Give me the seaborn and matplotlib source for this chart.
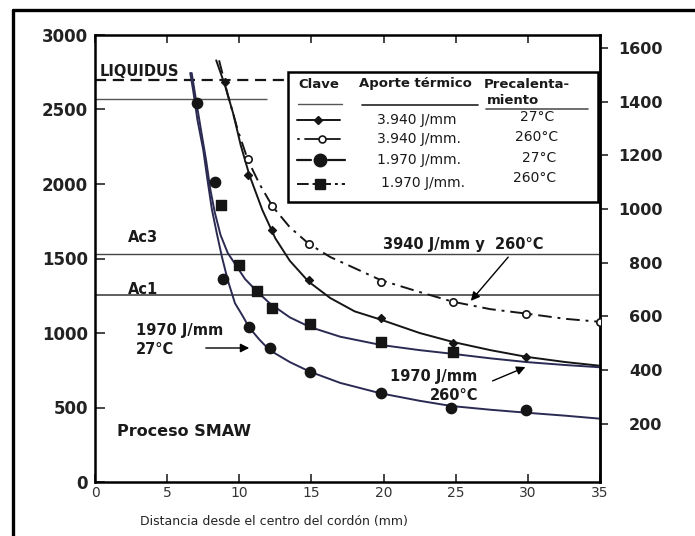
import numpy as np
import pandas as pd
import matplotlib
matplotlib.use("Agg")
import matplotlib.pyplot as plt
import seaborn as sns
from matplotlib.lines import Line2D
from matplotlib.patches import Rectangle

# ---------------- data ----------------
# x: distance from weld centre (mm), y: temperature (deg F, left axis)
s1_cx = [8.4, 9.0, 9.6, 10.1, 10.7, 11.6, 12.5, 13.5, 14.8, 16.3, 18.0, 19.8, 22.5, 24.8, 27.4, 29.9, 32.6, 35.0]
s1_cy = [2830, 2665, 2465, 2260, 2060, 1825, 1635, 1485, 1345, 1235, 1145, 1090, 1000, 940, 885, 840, 805, 780]
s1_mx = [9.0, 10.6, 12.3, 14.8, 19.8, 24.8, 29.9]
s1_my = [2685, 2060, 1690, 1355, 1100, 935, 840]

s2_cx = [8.6, 9.2, 9.9, 10.6, 11.4, 12.3, 13.5, 14.8, 16.3, 18.0, 19.8, 22.5, 24.8, 27.4, 29.9, 32.6, 35.0]
s2_cy = [2830, 2600, 2360, 2160, 2000, 1850, 1710, 1600, 1510, 1435, 1355, 1275, 1210, 1160, 1130, 1095, 1075]
s2_mx = [10.6, 12.3, 14.8, 19.8, 24.8, 29.9, 35.0]
s2_my = [2165, 1850, 1600, 1345, 1210, 1130, 1075]

s3_cx = [6.6, 6.8, 7.1, 7.5, 7.8, 8.1, 8.45, 8.8, 9.2, 9.7, 10.2, 10.7, 11.4, 12.1, 13.5, 14.9, 17.0, 19.8, 22.5, 24.7, 27.4, 29.9, 32.6, 35.0]
s3_cy = [2745, 2630, 2430, 2230, 2025, 1830, 1665, 1510, 1355, 1200, 1120, 1035, 955, 885, 805, 740, 665, 595, 545, 510, 485, 465, 445, 425]
s3_mx = [7.1, 8.3, 8.9, 10.7, 12.1, 14.9, 19.8, 24.7, 29.9]
s3_my = [2545, 2015, 1360, 1040, 900, 740, 595, 495, 485]

s4_cx = [6.7, 7.0, 7.35, 7.7, 8.0, 8.3, 8.7, 9.2, 9.8, 10.4, 11.2, 12.1, 13.5, 14.9, 17.0, 19.8, 22.5, 24.8, 27.4, 29.9, 32.6, 35.0]
s4_cy = [2745, 2565, 2360, 2160, 1960, 1810, 1658, 1537, 1450, 1362, 1282, 1200, 1105, 1040, 975, 920, 885, 860, 830, 805, 785, 770]
s4_mx = [8.7, 10.0, 11.2, 12.3, 14.9, 19.8, 24.8]
s4_my = [1860, 1455, 1280, 1170, 1060, 940, 870]

liquidus = 2700
solidus = 2570
ac3 = 1530
ac1 = 1255

x_ticks = [0, 5, 10, 15, 20, 25, 30, 35]
y_ticks = [0, 500, 1000, 1500, 2000, 2500, 3000]
y_labels = ["0", "500", "1000", "1500", "2000", "2500", "3000"]
c_ticks = [200, 400, 600, 800, 1000, 1200, 1400, 1600]
c_labels = ["200", "400", "600", "800", "1000", "1200", "1400", "1600"]

legend_aporte = ["3.940 J/mm", "3.940 J/mm.", "1.970 J/mm.", "1.970 J/mm."]
legend_prec = ["27°C", "260°C", "27°C", "260°C"]

# ---------------- figure ----------------
sns.set_theme(style="white")
plt.rcParams['font.family'] = ['DejaVu Sans']
plt.rcParams['text.color'] = '#1a1a1a'

W, H = 695, 536
fig = plt.figure(figsize=(W / 100, H / 100), dpi=100)
fig.patch.set_facecolor('white')
X0, X1, Y0, Y1 = 95, 600, 35, 482
ax = fig.add_axes([X0 / W, 1 - Y1 / H, (X1 - X0) / W, (Y1 - Y0) / H])
ax.set_facecolor('white')


def P(px, py):
    return (px - X0) / (X1 - X0) * 35, (Y1 - py) / (Y1 - Y0) * 3000


def F(px, py):
    return px / W, 1 - py / H


dark = '#151515'
navy = '#2a2a52'

# reference lines
ax.axhline(liquidus, color=dark, lw=1.6, ls=(0, (5, 3)), zorder=1)
ax.hlines(solidus, 0, 11.9, color='#555555', lw=1.0, zorder=1)
ax.axhline(ac3, color='#444444', lw=1.0, zorder=1)
ax.axhline(ac1, color='#333333', lw=1.1, zorder=1)

# curves
curves = [
    (s1_cx, s1_cy, dark, '-'),
    (s2_cx, s2_cy, dark, (0, (7, 3, 1.5, 3))),
    (s3_cx, s3_cy, navy, '-'),
    (s4_cx, s4_cy, navy, '-'),
]
for cx, cy, col, ls in curves:
    df = pd.DataFrame({'x': cx, 'y': cy})
    sns.lineplot(data=df, x='x', y='y', ax=ax, color=col, lw=1.4,
                 sort=False, estimator=None, legend=False, linestyle=ls, zorder=2)

# markers
marks = [
    (s1_mx, s1_my, 'D', 16, dark, dark, 1.0),
    (s2_mx, s2_my, 'o', 28, 'white', dark, 1.2),
    (s3_mx, s3_my, 'o', 55, dark, dark, 1.0),
    (s4_mx, s4_my, 's', 42, dark, dark, 1.0),
]
for mx, my, m, s, fc, ec, lw in marks:
    dfm = pd.DataFrame({'x': mx, 'y': my})
    sns.scatterplot(data=dfm, x='x', y='y', ax=ax, marker=m, s=s, color=fc,
                    edgecolor=ec, linewidth=lw, legend=False, zorder=3)

ax.set_xlim(0, 35)
ax.set_ylim(0, 3000)
ax.set_xlabel('')
ax.set_ylabel('')
for sp in ax.spines.values():
    sp.set_visible(True)
    sp.set_color('black')
    sp.set_linewidth(1.8)

ax.set_xticks(x_ticks, [str(v) for v in x_ticks], fontsize=10, color='#333333')
ax.set_yticks(y_ticks, y_labels, fontsize=12, fontweight='bold', color='#222222')
ax.tick_params(axis='x', direction='in', top=True, bottom=True, length=6, width=1.2, pad=3)
ax.tick_params(axis='y', direction='in', left=True, right=False, length=7, width=1.2, pad=5)


def f2c(f):
    return (np.asarray(f) - 32) * 5 / 9


def c2f(c):
    return np.asarray(c) * 9 / 5 + 32


sec = ax.secondary_yaxis('right', functions=(f2c, c2f))
sec.set_yticks(c_ticks, c_labels, fontsize=11.5, fontweight='bold', ha='right', color='#222222')
sec.tick_params(direction='out', length=6, width=1.2, pad=39)
sec.spines['right'].set_linewidth(1.8)

# ---------------- annotations ----------------
bold = dict(fontweight='bold', fontsize=10.5, va='center', ha='left', color='#1a1a1a')
fig.text(*F(100, 72), 'LIQUIDUS', **bold)
fig.text(*F(128, 238), 'Ac3', **bold)
fig.text(*F(128, 289), 'Ac1', **bold)
fig.text(*F(136, 330), '1970 J/mm', **bold)
fig.text(*F(136, 349), '27°C', **bold)
fig.text(*F(117, 432), 'Proceso SMAW', fontweight='bold', fontsize=11.5, va='center', ha='left')
fig.text(*F(383, 245), '3940 J/mm y  260°C', **bold)
fig.text(*F(390, 377), '1970 J/mm', **bold)
fig.text(*F(430, 396), '260°C', **bold)

arrow = dict(arrowstyle='-|>', color='black', lw=1.0, mutation_scale=13)
ax.annotate('', xy=P(252, 348), xytext=P(203, 348), arrowprops=arrow, zorder=4)
ax.annotate('', xy=P(469, 303), xytext=P(510, 255), arrowprops=arrow, zorder=4)
ax.annotate('', xy=P(528, 366), xytext=P(490, 382), arrowprops=arrow, zorder=4)

fig.text(*F(140, 521), 'Distancia desde el centro del cordón (mm)', fontsize=9,
         va='center', ha='left', color='#222222')

# ---------------- key box (legend table) ----------------
fig.add_artist(Rectangle(F(288, 202), (598 - 288) / W, (202 - 72) / H,
                         transform=fig.transFigure, facecolor='white',
                         edgecolor='black', lw=1.8, zorder=5))
hdr = dict(fontweight='bold', fontsize=9.5, va='center', ha='left', zorder=6)
fig.text(*F(298, 84), 'Clave', **hdr)
fig.text(*F(359, 84), 'Aporte térmico', **hdr)
fig.text(*F(484, 84), 'Precalenta-', **hdr)
fig.text(*F(487, 101), 'miento', **hdr)


def fline(xs, ys, **kw):
    fx = [x / W for x in xs]
    fy = [1 - y / H for y in ys]
    fig.add_artist(Line2D(fx, fy, transform=fig.transFigure, zorder=6, **kw))


fline([298, 342], [104, 104], color='#555555', lw=1.0)
fline([362, 478], [105, 105], color='#222222', lw=1.2)
fline([486, 588], [109, 109], color='#555555', lw=1.2)

rows_y = [120, 139, 160, 183]
# row samples
fline([297, 340], [120, 120], color=dark, lw=1.4)
fline([318], [120], color=dark, marker='D', markersize=4.5, ls='none')
fline([298, 299], [139, 139], color=dark, lw=1.4)
fline([305, 340], [139, 139], color=dark, lw=1.3)
fline([322], [139], marker='o', markersize=5, mfc='white', mec=dark, mew=1.2, ls='none')
fline([297, 311], [160, 160], color=dark, lw=1.6)
fline([328, 345], [160, 160], color=dark, lw=1.6)
fline([320], [160], marker='o', markersize=9, mfc=dark, mec=dark, ls='none')
fline([297, 345], [184, 184], color=dark, lw=1.4, ls=(0, (6, 2, 1.5, 2)))
fline([320], [184], marker='s', markersize=7, mfc=dark, mec=dark, ls='none')

txt = dict(fontsize=10, va='center', ha='left', zorder=6, color='#1a1a1a')
aporte_x = [377, 377, 377, 381]
prec_x = [520, 515, 522, 513]
prec_y = [117, 137, 158, 178]
for i in range(4):
    fig.text(*F(aporte_x[i], rows_y[i]), legend_aporte[i], **txt)
    fig.text(*F(prec_x[i], prec_y[i]), legend_prec[i], **txt)

# outer frame of the scanned figure
fline([13, 13], [10, 536], color='black', lw=2.4)
fline([13, 695], [10, 10], color='black', lw=2.4)

fig.savefig('out.png', dpi=100, facecolor='white')
